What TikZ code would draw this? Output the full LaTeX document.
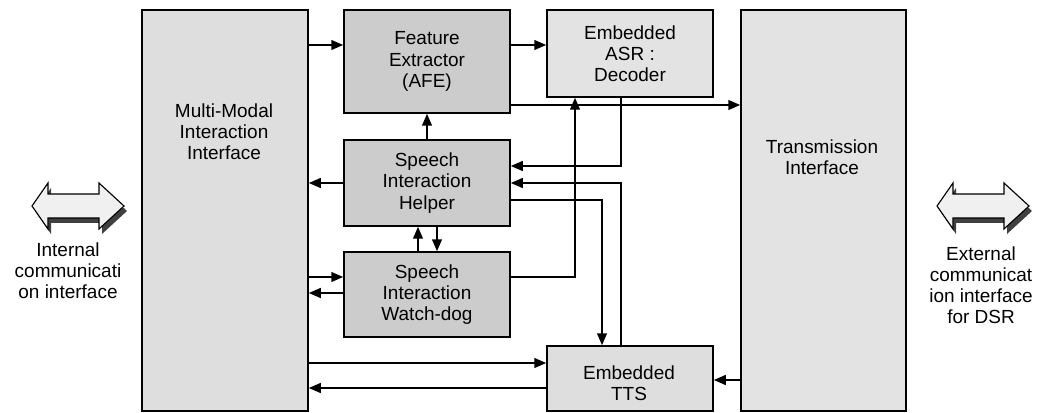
\documentclass[tikz,border=0pt]{standalone}
\usepackage{fontspec}
\setmainfont{Liberation Sans}
\usetikzlibrary{arrows.meta,calc}
\tikzset{
	blk/.style={draw, line width=1.1pt, fill=#1, minimum width=4.15cm, inner sep=0pt, align=center, font=\fontsize{13.5}{15}\selectfont},
	txt/.style={align=center, inner sep=0pt, font=\fontsize{13.5}{15}\selectfont},
	arr/.style={line width=1.2pt, -{Triangle[length=8.5pt,width=7pt]}}
}
\def\dblarrow(#1,#2){%
	\begin{scope}[shift={(#1,#2)}]
		\fill[black!75] (-42,5) -- (-26,-18) -- (-26,-7) -- (25,-7) -- (25,-18) -- (50,5) -- (25,28) -- (25,17) -- (-26,17) -- (-26,28) -- cycle;
		\draw[line width=0.8pt, fill=black!6] (-45,0) -- (-29,-23) -- (-29,-12) -- (22,-12) -- (22,-23) -- (47,0) -- (22,23) -- (22,12) -- (-29,12) -- (-29,23) -- cycle;
	\end{scope}}

\begin{document}
\begin{tikzpicture}[x=0.025cm, y=-0.025cm]
		%%%%% START %%%%%
		\useasboundingbox (0,0) rectangle (1039,413);
		
		\node[blk=black!13, minimum height=10.025cm] (mmi) at (225,210.5) {};
		\node[txt] (mmitxt) at (224,132) {Multi-Modal\\Interaction\\Interface};
		\node[blk=black!11, minimum width=4.125cm, minimum height=10.025cm] (trans) at (823.5,210.5) {};
		\node[txt] (transtxt) at (822,157) {Transmission\\Interface};
		
		\node[blk=black!20, minimum height=2.575cm] (fe) at (427,61.5) {Feature\\Extractor\\(AFE)};
		\node[blk=black!11, minimum height=2.175cm] (asr) at (630,53.5) {Embedded\\ASR :\\Decoder};
		\node[blk=black!20, minimum height=2.15cm] (helper) at (427,183) {Speech\\Interaction\\Helper};
		\node[blk=black!20, minimum height=2.125cm] (wdog) at (427,294.5) {Speech\\Interaction\\Watch-dog};
		\node[blk=black!13, minimum height=1.625cm] (tts) at (630,378.5) {};
		\node[txt] (ttstxt) at (629,383) {Embedded\\TTS};
		
		\draw[arr] (mmi.east |- 0,45) -- (fe.west |- 0,45);
		\draw[arr] (fe.east |- 0,45) -- (asr.west |- 0,45);
		\draw[arr] (fe.east |- 0,105) -- (trans.west |- 0,105);
		\draw[arr] (helper.north) -- (fe.south);
		\draw[arr] (helper.west) -- (mmi.east |- helper.west);
		\draw[arr] (asr.south -| 621,0) |- (helper.east |- 0,166);
		\draw[arr] (tts.north -| 621,0) |- (helper.east |- 0,183);
		\draw[arr] (helper.east |- 0,200) -| (tts.north -| 602,0);
		\draw[arr] (wdog.north -| 418,0) -- (helper.south -| 418,0);
		\draw[arr] (helper.south -| 437,0) -- (wdog.north -| 437,0);
		\draw[arr] (mmi.east |- 0,277) -- (wdog.west |- 0,277);
		\draw[arr] (wdog.west |- 0,293) -- (mmi.east |- 0,293);
		\draw[arr] (wdog.east |- 0,277) -| (asr.south -| 575,0);
		\draw[arr] (mmi.east |- 0,363) -- (tts.west |- 0,363);
		\draw[arr] (tts.west |- 0,388) -- (mmi.east |- 0,388);
		\draw[arr] (trans.west |- 0,380) -- (tts.east |- 0,380);
		
		\dblarrow(77,206)
		\node[txt] (internal) at (68,271) {Internal\\communicati\\on interface};
		\dblarrow(982,206)
		\node[txt] (external) at (981,285.5) {External\\communicat\\ion interface\\for DSR};
		%%%%% END %%%%%
	\end{tikzpicture}
\end{document}
